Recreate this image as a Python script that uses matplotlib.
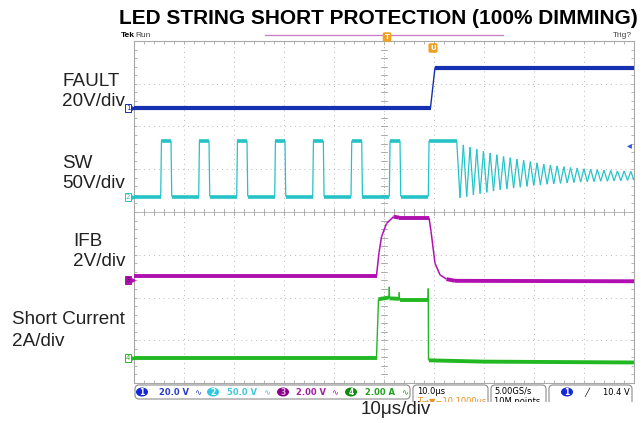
import numpy as np
import matplotlib
matplotlib.use("Agg")
import matplotlib.pyplot as plt
from matplotlib.collections import LineCollection
from matplotlib.patches import FancyBboxPatch, Ellipse, Rectangle

# ---------------- waveform data (time in us, level in divisions from bottom) ----------------
fault_t = [0.0, 59.3, 60.2, 100.0]
fault_d = [6.44, 6.44, 7.38, 7.38]

sw_low, sw_high = 4.36, 5.67
sw_rise = [5.34, 12.94, 20.54, 28.14, 35.74, 43.40, 51.06, 58.86]
sw_fall = [7.40, 15.00, 22.60, 30.20, 37.86, 45.54, 53.20, 64.54]
ring_t = [65.20, 65.87, 66.54, 67.21, 67.88, 68.55, 69.22, 69.89, 70.56, 71.23,
          71.90, 72.57, 73.24, 73.91, 74.58, 75.25, 75.92, 76.59, 77.26, 77.93,
          78.60, 79.27, 79.94, 80.61, 81.28, 81.95, 82.62, 83.29, 83.96, 84.63,
          85.30, 85.97, 86.64, 87.31, 87.98, 88.65, 89.32, 89.99, 90.66, 91.33,
          92.00, 92.67, 93.34, 94.01, 94.68, 95.35, 96.02, 96.69, 97.36, 98.03,
          98.70, 99.37, 100.0]
ring_d = [4.33, 5.57, 4.36, 5.52, 4.40, 5.47, 4.43, 5.42, 4.46, 5.38,
          4.49, 5.34, 4.52, 5.30, 4.54, 5.27, 4.56, 5.24, 4.58, 5.21,
          4.60, 5.18, 4.62, 5.15, 4.63, 5.12, 4.65, 5.10, 4.66, 5.08,
          4.67, 5.06, 4.68, 5.04, 4.69, 5.03, 4.70, 5.01, 4.71, 5.00,
          4.71, 4.99, 4.72, 4.98, 4.72, 4.97, 4.73, 4.96, 4.73, 4.96,
          4.74, 4.95, 4.74]

ifb_t = [0.0, 48.5, 49.0, 49.5, 50.5, 51.9, 53.0, 59.0, 59.4, 60.2, 61.2, 62.5, 64.2, 100.0]
ifb_d = [2.51, 2.51, 3.05, 3.42, 3.73, 3.89, 3.87, 3.87, 3.55, 2.80, 2.53, 2.43, 2.39, 2.38]

cur_t = [0.0, 48.5, 48.9, 51.0, 51.05, 51.1, 53.0, 53.05, 53.1, 58.8, 58.85, 58.9, 59.0, 70.0, 100.0]
cur_d = [0.59, 0.59, 1.96, 2.00, 2.25, 1.98, 1.97, 2.12, 1.93, 1.93, 2.21, 0.54, 0.53, 0.50, 0.48]

trace_labels = [("FAULT", "20V/div"), ("SW", "50V/div"), ("IFB", "2V/div"), ("Short Current", "2A/div")]
scale_texts = ["20.0 V", "50.0 V", "2.00 V", "2.00 A"]

C_FAULT = "#1530b0"
C_SW = "#25c3c8"
C_IFB = "#b010b0"
C_CUR = "#22b822"

W, H = 641, 423
fig = plt.figure(figsize=(W / 100, H / 100), dpi=100)
fig.patch.set_facecolor("white")

# ---------------- scope graticule ----------------
L, R, T, B = 134, 634, 41, 383
ax = fig.add_axes([L / W, 1 - B / H, (R - L) / W, (B - T) / H])
ax.set_xlim(0, 100)
ax.set_ylim(0, 8)
ax.set_facecolor("white")
for s in ax.spines.values():
    s.set_color("#a8a8a8")
    s.set_linewidth(0.8)
ax.set_xticks(np.arange(0, 101, 2))
ax.set_yticks(np.arange(0, 8.01, 0.2))
ax.tick_params(direction="in", length=2.5, width=0.6, color="#a8a8a8",
               top=True, right=True, labelbottom=False, labelleft=False)
for k in range(1, 10):
    if k != 5:
        ax.axvline(10 * k, color="#b8b8b8", lw=0.7, ls=(0, (1, 4)), zorder=1)
for k in range(1, 8):
    if k != 4:
        ax.axhline(k, color="#b8b8b8", lw=0.7, ls=(0, (1, 4)), zorder=1)
ax.axvline(50, color="#b0b0b0", lw=0.7, ls=(0, (1, 2)), zorder=1)
ax.axhline(4, color="#b8b8b8", lw=0.7, zorder=1)
for tt in np.arange(0, 100.01, 2):
    ax.plot([tt, tt], [3.94, 4.06], color="#a0a0a0", lw=0.6, zorder=1)
for dd in np.arange(0, 8.01, 0.2):
    ax.plot([49.4, 50.6], [dd, dd], color="#a0a0a0", lw=0.6, zorder=1)


def draw_trace(t, d, color, thick=2.6, thin=1.0):
    pts = np.column_stack([t, d])
    segs = np.stack([pts[:-1], pts[1:]], axis=1)
    slope = np.abs(np.diff(d) / np.maximum(np.diff(t), 1e-9))
    lw = np.where(slope < 0.05, thick, thin)
    ax.add_collection(LineCollection(segs, colors=color, linewidths=lw,
                                     capstyle="butt", joinstyle="round", zorder=3))


# SW trace assembled from edge times and ringing extremes
sw_t, sw_d = [0.0], [sw_low]
for r, f in zip(sw_rise[:-1], sw_fall[:-1]):
    sw_t += [r, r + 0.15, f, f + 0.15]
    sw_d += [sw_low, sw_high, sw_high, sw_low]
sw_t += [sw_rise[-1], sw_rise[-1] + 0.15, sw_fall[-1]]
sw_d += [sw_low, sw_high, sw_high]
sw_t += ring_t
sw_d += ring_d

draw_trace(fault_t, fault_d, C_FAULT, thick=3.0)
draw_trace(sw_t, sw_d, C_SW, thick=2.6, thin=0.9)
draw_trace(ifb_t, ifb_d, C_IFB, thick=2.8, thin=1.1)
draw_trace(cur_t, cur_d, C_CUR, thick=2.8, thin=1.0)

# ---------------- overlay in pixel coordinates ----------------
ov = fig.add_axes([0, 0, 1, 1], facecolor="none")
ov.set_xlim(0, W)
ov.set_ylim(H, 0)
ov.axis("off")

fam = ["Liberation Sans", "DejaVu Sans"]
ov.text(378, 18, "LED STRING SHORT PROTECTION (100% DIMMING)", ha="center", va="center",
        fontsize=15, fontweight="bold", family=fam)

label_pos = [(62, 81, 102), (62, 163, 184), (73, 242, 262), (12, 320, 342)]
for (name, scale), (x, y1, y2) in zip(trace_labels, label_pos):
    ov.text(x, y1, name, ha="left", va="center", fontsize=13.6, family=fam, color="#222222")
    ov.text(x, y2, scale, ha="left", va="center", fontsize=13.6, family=fam, color="#222222")

# header
ov.text(121, 35.5, "Tek", ha="left", va="center", fontsize=6, fontweight="bold", family=fam)
ov.text(135, 35.5, "Run", ha="left", va="center", fontsize=6, family=fam, color="#444444")
ov.text(632, 35.5, "Trig?", ha="right", va="center", fontsize=6, family=fam, color="#444444")
ov.plot([265, 503], [35.5, 35.5], color="#c77ac7", lw=0.9)
ov.text(387, 37, "T", ha="center", va="center", fontsize=5, color="white", fontweight="bold",
        bbox=dict(boxstyle="round,pad=0.15", fc="#f0a020", ec="#f0a020"))
ov.text(433, 48, "U", ha="center", va="center", fontsize=5, color="white", fontweight="bold",
        bbox=dict(boxstyle="round,pad=0.15", fc="#f0a020", ec="#f0a020"))
ov.text(632, 145, "\u25c2", ha="right", va="center", fontsize=7, color="#3050e0", family="DejaVu Sans")

# channel ground markers
ch_marks = [("1", 108, C_FAULT, False), ("2", 197, C_SW, False),
            ("3", 280, C_IFB, True), ("4", 358, C_CUR, False)]
for num, y, col, filled in ch_marks:
    ov.text(128, y, num, ha="center", va="center", fontsize=5, family="DejaVu Sans",
            color=("#402040" if filled else col),
            bbox=dict(boxstyle="square,pad=0.12", fc=(col if filled else "white"), ec=col, lw=0.7))
    ov.plot([132.5], [y], marker=">", ms=2.5, color=col)

# status bar
def rbox(x0, x1, y0=385, y1=407):
    ov.add_patch(FancyBboxPatch((x0, y0), x1 - x0, y1 - y0,
                                boxstyle="round,pad=0,rounding_size=4",
                                fc="white", ec="#8c8c8c", lw=0.8, zorder=2))

rbox(135, 410, y1=399)
rbox(413, 488)
rbox(491, 546)
rbox(549, 632)

badge_cols = ["#1428d8", "#30c8e0", "#8a008a", "#108a10"]
text_cols = ["#2a3cc8", "#40c8d8", "#a020a0", "#20a020"]
badge_x = [142, 213, 283, 351]
text_x = [159, 227, 296, 365]
wave_x = [198, 267, 335, 405]
for i in range(4):
    ov.add_patch(Ellipse((badge_x[i], 392), 12, 9, fc=badge_cols[i], ec="none", zorder=3))
    ov.text(badge_x[i], 392.3, str(i + 1), ha="center", va="center", fontsize=5.5,
            color="white" if i != 2 else "#e0b0e0", fontweight="bold", zorder=4)
    ov.text(text_x[i], 392.3, scale_texts[i], ha="left", va="center", fontsize=6,
            color=text_cols[i], fontweight="bold", family="DejaVu Sans", zorder=4)
    ov.text(wave_x[i], 392.3, "\u223f", ha="center", va="center", fontsize=6,
            color=text_cols[i], family="DejaVu Sans", zorder=4)

ov.text(417, 391.5, "10.0\u03bcs", ha="left", va="center", fontsize=6, family="DejaVu Sans", zorder=4)
ov.text(417, 401, "T\u2192\u25bc\u221210.1000\u03bcs", ha="left", va="center", fontsize=6,
        color="#e89020", family="DejaVu Sans", zorder=4)
ov.text(494, 391.5, "5.00GS/s", ha="left", va="center", fontsize=6, family="DejaVu Sans", zorder=4)
ov.text(494, 401, "10M points", ha="left", va="center", fontsize=6, family="DejaVu Sans", zorder=4)
ov.add_patch(Ellipse((567, 392), 12, 9, fc="#1428d8", ec="none", zorder=3))
ov.text(567, 392.3, "1", ha="center", va="center", fontsize=5.5, color="white", fontweight="bold", zorder=4)
ov.text(587, 392.3, "\u2571", ha="center", va="center", fontsize=6, family="DejaVu Sans", zorder=4)
ov.text(630, 392.3, "10.4 V", ha="right", va="center", fontsize=6, family="DejaVu Sans", zorder=4)

# crop edge of the screen capture, then the time-base label below it
ov.add_patch(Rectangle((100, 402.5), 541, 25, fc="white", ec="none", zorder=5))
ov.text(396, 410, "10\u03bcs/div", ha="center", va="center", fontsize=13.6, family=fam,
        color="#222222", zorder=6)

fig.savefig("out.png", dpi=100, facecolor="white")
